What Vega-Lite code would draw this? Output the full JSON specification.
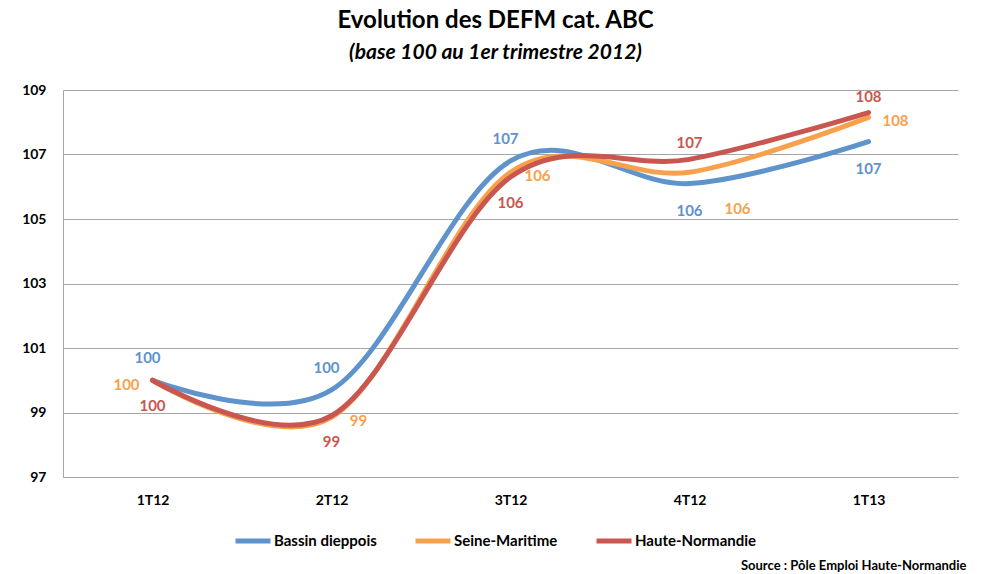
{
  "$schema": "https://vega.github.io/schema/vega-lite/v6.json",
  "width": 895,
  "height": 387,
  "autosize": {"type": "none"},
  "padding": {"left": 63, "top": 90, "right": 24, "bottom": 97},
  "background": "white",
  "title": {
    "text": "Evolution des DEFM cat. ABC",
    "subtitle": "(base 100 au 1er trimestre 2012)",
    "font": "Lato",
    "fontSize": 24,
    "fontWeight": "bold",
    "color": "#000000",
    "subtitleFont": "Lato",
    "subtitleFontSize": 21,
    "subtitleFontWeight": "bold",
    "subtitleFontStyle": "italic",
    "subtitleColor": "#000000",
    "subtitlePadding": 9,
    "anchor": "middle",
    "dx": -15,
    "offset": 20
  },
  "config": {
    "view": {"stroke": null},
    "font": "Lato"
  },
  "data": {
    "values": [
      {"q": "1T12", "serie": "Bassin dieppois", "v": 100},
      {"q": "2T12", "serie": "Bassin dieppois", "v": 99.7},
      {"q": "3T12", "serie": "Bassin dieppois", "v": 106.8},
      {"q": "4T12", "serie": "Bassin dieppois", "v": 106.1},
      {"q": "1T13", "serie": "Bassin dieppois", "v": 107.4},
      {"q": "1T12", "serie": "Seine-Maritime", "v": 100},
      {"q": "2T12", "serie": "Seine-Maritime", "v": 98.85},
      {"q": "3T12", "serie": "Seine-Maritime", "v": 106.45},
      {"q": "4T12", "serie": "Seine-Maritime", "v": 106.45},
      {"q": "1T13", "serie": "Seine-Maritime", "v": 108.15},
      {"q": "1T12", "serie": "Haute-Normandie", "v": 100},
      {"q": "2T12", "serie": "Haute-Normandie", "v": 98.9},
      {"q": "3T12", "serie": "Haute-Normandie", "v": 106.3},
      {"q": "4T12", "serie": "Haute-Normandie", "v": 106.85},
      {"q": "1T13", "serie": "Haute-Normandie", "v": 108.3}
    ]
  },
  "encoding": {
    "x": {
      "field": "q",
      "type": "ordinal",
      "sort": ["1T12", "2T12", "3T12", "4T12", "1T13"],
      "scale": {"type": "point", "padding": 0.5},
      "axis": {
        "title": "Source : Pôle Emploi Haute-Normandie",
        "titleFont": "Lato",
        "titleFontSize": 13,
        "titleFontWeight": "bold",
        "titleColor": "#000000",
        "titleAnchor": null,
        "titleAlign": "right",
        "titleBaseline": "alphabetic",
        "titleX": 903,
        "titleY": 92,
        "labelAngle": 0,
        "labelFont": "Lato",
        "labelFontSize": 14,
        "labelFontWeight": "bold",
        "labelColor": "#000000",
        "labelPadding": 16,
        "ticks": false,
        "domain": true,
        "domainColor": "#A6A6A6",
        "grid": false
      }
    },
    "y": {
      "field": "v",
      "type": "quantitative",
      "scale": {"domain": [97, 109], "nice": false, "zero": false},
      "axis": {
        "title": null,
        "values": [97, 99, 101, 103, 105, 107, 109],
        "format": "d",
        "labelFont": "Lato",
        "labelFontSize": 14,
        "labelFontWeight": "bold",
        "labelColor": "#000000",
        "labelPadding": 17,
        "ticks": false,
        "domain": true,
        "domainColor": "#A6A6A6",
        "grid": true,
        "gridColor": "#A6A6A6",
        "gridWidth": 1
      }
    },
    "color": {
      "field": "serie",
      "type": "nominal",
      "sort": ["Bassin dieppois", "Seine-Maritime", "Haute-Normandie"],
      "scale": {
        "domain": ["Bassin dieppois", "Seine-Maritime", "Haute-Normandie"],
        "range": ["#5E93CC", "#F8A14C", "#C9564F"]
      },
      "legend": {
        "title": null,
        "orient": "none",
        "direction": "horizontal",
        "legendX": 170,
        "legendY": 431,
        "symbolType": "stroke",
        "symbolStrokeWidth": 5,
        "symbolSize": 1225,
        "labelFont": "Lato",
        "labelFontSize": 15,
        "labelFontWeight": "bold",
        "labelColor": "#000000",
        "labelOffset": 1,
        "columnPadding": 28
      }
    }
  },
  "layer": [
    {
      "mark": {"type": "line", "interpolate": "cardinal", "strokeWidth": 5, "strokeCap": "round"}
    },
    {
      "transform": [{"filter": "datum.serie == 'Bassin dieppois' && indexof(['1T12','2T12','3T12'], datum.q) >= 0"}],
      "mark": {"type": "text", "fontSize": 15, "fontWeight": "bold", "baseline": "middle", "align": "center", "dx": -5, "dy": -22},
      "encoding": {"text": {"field": "v", "type": "quantitative", "format": ".0f"}}
    },
    {
      "transform": [{"filter": "datum.serie == 'Bassin dieppois' && indexof(['4T12','1T13'], datum.q) >= 0"}],
      "mark": {"type": "text", "fontSize": 15, "fontWeight": "bold", "baseline": "middle", "align": "center", "dy": 27},
      "encoding": {"text": {"field": "v", "type": "quantitative", "format": ".0f"}}
    },
    {
      "transform": [{"filter": "datum.serie == 'Seine-Maritime' && datum.q == '1T12'"}],
      "mark": {"type": "text", "fontSize": 15, "fontWeight": "bold", "baseline": "middle", "align": "center", "dx": -26, "dy": 5},
      "encoding": {"text": {"field": "v", "type": "quantitative", "format": ".0f"}}
    },
    {
      "transform": [{"filter": "datum.serie == 'Seine-Maritime' && indexof(['2T12','3T12','1T13'], datum.q) >= 0"}],
      "mark": {"type": "text", "fontSize": 15, "fontWeight": "bold", "baseline": "middle", "align": "center", "dx": 27, "dy": 4},
      "encoding": {"text": {"field": "v", "type": "quantitative", "format": ".0f"}}
    },
    {
      "transform": [{"filter": "datum.serie == 'Seine-Maritime' && datum.q == '4T12'"}],
      "mark": {"type": "text", "fontSize": 15, "fontWeight": "bold", "baseline": "middle", "align": "center", "dx": 48, "dy": 37},
      "encoding": {"text": {"field": "v", "type": "quantitative", "format": ".0f"}}
    },
    {
      "transform": [{"filter": "datum.serie == 'Haute-Normandie' && indexof(['1T12','2T12','3T12'], datum.q) >= 0"}],
      "mark": {"type": "text", "fontSize": 15, "fontWeight": "bold", "baseline": "middle", "align": "center", "dy": 26},
      "encoding": {"text": {"field": "v", "type": "quantitative", "format": ".0f"}}
    },
    {
      "transform": [{"filter": "datum.serie == 'Haute-Normandie' && indexof(['4T12','1T13'], datum.q) >= 0"}],
      "mark": {"type": "text", "fontSize": 15, "fontWeight": "bold", "baseline": "middle", "align": "center", "dy": -16},
      "encoding": {"text": {"field": "v", "type": "quantitative", "format": ".0f"}}
    }
  ]
}
